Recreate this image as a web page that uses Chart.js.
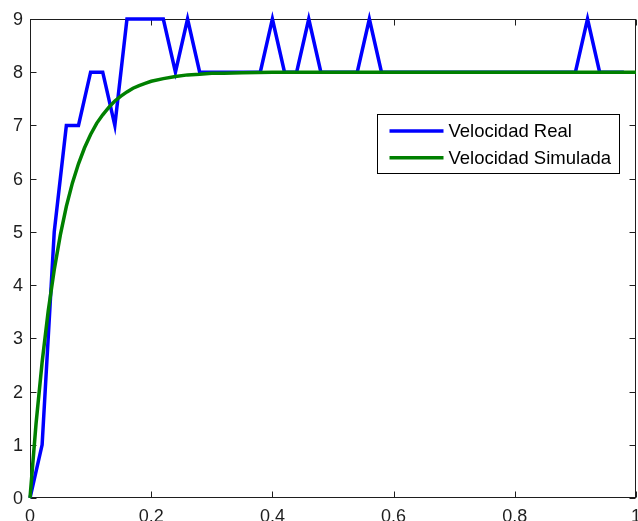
<!DOCTYPE html>
<html>
<head>
<meta charset="utf-8">
<script src="https://cdn.jsdelivr.net/npm/chart.js@4.4.1/dist/chart.umd.min.js"></script>
<style>
  html, body { margin: 0; padding: 0; background: #fff; overflow: hidden; }
  #wrap { width: 638px; height: 521px; position: relative; }
</style>
</head>
<body>
<div id="wrap"><canvas id="c" width="638" height="521"></canvas></div>
<script>
// Measured speed (sampled every 0.02 s)
const realTime = [
  0.00, 0.02, 0.04, 0.06, 0.08, 0.10, 0.12, 0.14, 0.16, 0.18,
  0.20, 0.22, 0.24, 0.26, 0.28, 0.30, 0.32, 0.34, 0.36, 0.38,
  0.40, 0.42, 0.44, 0.46, 0.48, 0.50, 0.52, 0.54, 0.56, 0.58,
  0.60, 0.62, 0.64, 0.66, 0.68, 0.70, 0.72, 0.74, 0.76, 0.78,
  0.80, 0.82, 0.84, 0.86, 0.88, 0.90, 0.92, 0.94, 0.96, 0.98
];
const realSpeed = [
  0, 1, 5, 7, 7, 8, 8, 7, 9, 9,
  9, 9, 8, 9, 8, 8, 8, 8, 8, 8,
  9, 8, 8, 9, 8, 8, 8, 8, 9, 8,
  8, 8, 8, 8, 8, 8, 8, 8, 8, 8,
  8, 8, 8, 8, 8, 8, 9, 8, 8, 8
];

// Simulated model response
const simTime = [
  0.00, 0.01, 0.02, 0.03, 0.04, 0.05, 0.06, 0.07, 0.08, 0.09,
  0.10, 0.11, 0.12, 0.13, 0.14, 0.15, 0.16, 0.17, 0.18, 0.19,
  0.20, 0.22, 0.24, 0.26, 0.28, 0.30, 0.32, 0.35, 0.40, 0.50,
  0.60, 0.70, 0.80, 0.90, 1.00
];
const simSpeed = [
  0.00, 1.40, 2.55, 3.51, 4.29, 4.94, 5.48, 5.92, 6.28, 6.58,
  6.83, 7.04, 7.20, 7.34, 7.46, 7.55, 7.63, 7.70, 7.75, 7.79,
  7.83, 7.88, 7.92, 7.95, 7.96, 7.98, 7.98, 7.99, 8.00, 8.00,
  8.00, 8.00, 8.00, 8.00, 8.00
];

const seriesNames = ['Velocidad Real', 'Velocidad Simulada'];
const seriesColors = ['#0000ff', '#008000'];

const xTickValues = [0, 0.2, 0.4, 0.6, 0.8, 1];
const xTickLabels = ['0', '0.2', '0.4', '0.6', '0.8', '1'];
const yTickValues = [0, 1, 2, 3, 4, 5, 6, 7, 8, 9];
const yTickLabels = ['0', '1', '2', '3', '4', '5', '6', '7', '8', '9'];

const FONT = '"Liberation Sans", Arial, Helvetica, sans-serif';
const AXIS_COLOR = '#1e1e1e';

// Box around the axes with inward tick marks on all four sides
const axesFrame = {
  id: 'axesFrame',
  beforeDatasetsDraw(chart) {
    const { ctx, chartArea: a, scales } = chart;
    const L = Math.round(a.left) + 0.5, R = Math.round(a.right) - 0.5;
    const T = Math.round(a.top) + 0.5, B = Math.round(a.bottom) - 0.5;
    const len = 6;
    ctx.save();
    ctx.strokeStyle = AXIS_COLOR;
    ctx.lineWidth = 1;
    ctx.strokeRect(L, T, R - L, B - T);
    ctx.beginPath();
    scales.x.ticks.forEach(t => {
      const px = Math.round(scales.x.getPixelForValue(t.value)) + 0.5;
      ctx.moveTo(px, B); ctx.lineTo(px, B - len);
      ctx.moveTo(px, T); ctx.lineTo(px, T + len);
    });
    scales.y.ticks.forEach(t => {
      const py = Math.round(scales.y.getPixelForValue(t.value)) + 0.5;
      ctx.moveTo(L, py); ctx.lineTo(L + len, py);
      ctx.moveTo(R, py); ctx.lineTo(R - len, py);
    });
    ctx.stroke();
    ctx.restore();
  }
};

// Boxed legend inside the plot, upper right
const boxedLegend = {
  id: 'boxedLegend',
  afterDatasetsDraw(chart) {
    const { ctx, chartArea: a } = chart;
    const w = 242, h = 59;
    const x = Math.round(a.right - 17.5 - w) + 0.5;
    const y = Math.round(a.top + 94.5) + 0.5;
    ctx.save();
    ctx.fillStyle = '#fff';
    ctx.fillRect(x, y, w, h);
    ctx.strokeStyle = '#000';
    ctx.lineWidth = 1;
    ctx.strokeRect(x, y, w, h);
    ctx.font = '18.5px ' + FONT;
    ctx.textBaseline = 'middle';
    ctx.textAlign = 'left';
    chart.data.datasets.forEach((ds, i) => {
      const cy = y + 16.5 + i * 26.7;
      ctx.strokeStyle = ds.borderColor;
      ctx.lineWidth = 3.5;
      ctx.beginPath();
      ctx.moveTo(x + 12, cy);
      ctx.lineTo(x + 66, cy);
      ctx.stroke();
      ctx.fillStyle = '#000';
      ctx.fillText(ds.label, x + 71, cy + 1);
    });
    ctx.restore();
  }
};

new Chart(document.getElementById('c'), {
  type: 'line',
  data: {
    datasets: [
      {
        label: seriesNames[0],
        data: realTime.map((t, i) => ({ x: t, y: realSpeed[i] })),
        borderColor: seriesColors[0],
        borderWidth: 3.5,
        pointRadius: 0,
        tension: 0,
        fill: false,
        clip: false,
        order: 1
      },
      {
        label: seriesNames[1],
        data: simTime.map((t, i) => ({ x: t, y: simSpeed[i] })),
        borderColor: seriesColors[1],
        borderWidth: 3.5,
        pointRadius: 0,
        tension: 0,
        fill: false,
        clip: false,
        order: 0
      }
    ]
  },
  options: {
    responsive: false,
    animation: false,
    devicePixelRatio: 1,
    layout: { padding: { left: 0, right: 2, top: 19, bottom: 0 } },
    plugins: { legend: { display: false }, tooltip: { enabled: false } },
    scales: {
      x: {
        type: 'linear',
        min: 0,
        max: 1,
        afterBuildTicks: s => { s.ticks = xTickValues.map(v => ({ value: v })); },
        afterFit: s => { s.height = 23; s.paddingLeft = 0; s.paddingRight = 0; },
        grid: { display: false, drawTicks: false },
        border: { display: false },
        ticks: {
          callback: (v, i) => xTickLabels[i],
          autoSkip: false,
          maxRotation: 0,
          padding: 8,
          color: AXIS_COLOR,
          font: { family: FONT, size: 18 }
        }
      },
      y: {
        type: 'linear',
        min: 0,
        max: 9,
        afterBuildTicks: s => { s.ticks = yTickValues.map(v => ({ value: v })); },
        afterFit: s => { s.width = 30; s.paddingTop = 0; s.paddingBottom = 0; },
        grid: { display: false, drawTicks: false },
        border: { display: false },
        ticks: {
          callback: (v, i) => yTickLabels[i],
          autoSkip: false,
          padding: 7,
          labelOffset: 1,
          color: AXIS_COLOR,
          font: { family: FONT, size: 18 }
        }
      }
    }
  },
  plugins: [axesFrame, boxedLegend]
});
</script>
</body>
</html>
